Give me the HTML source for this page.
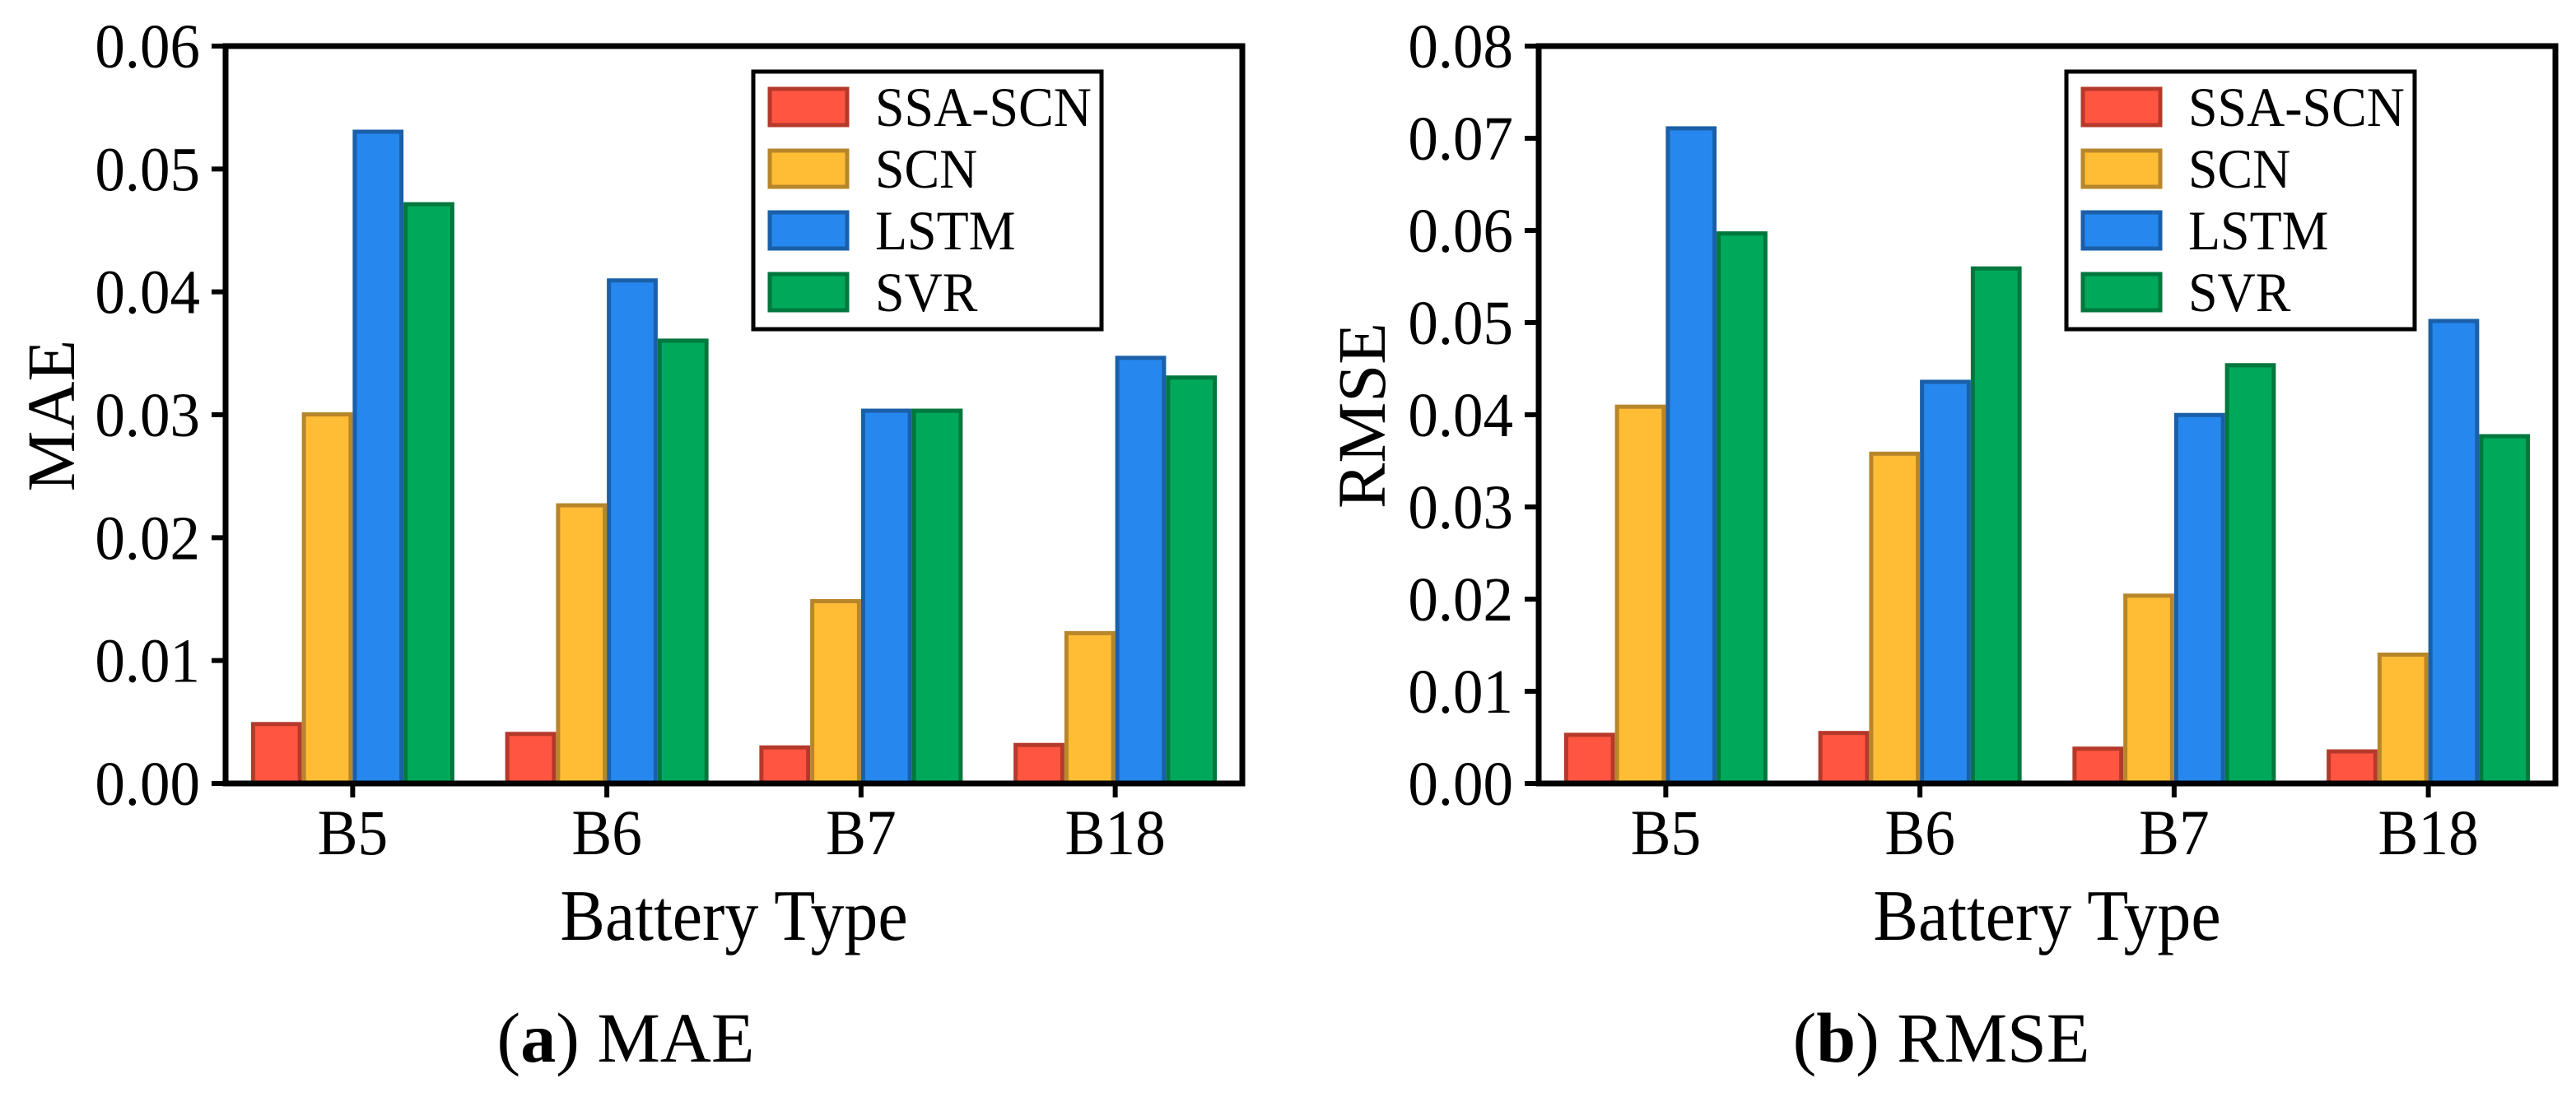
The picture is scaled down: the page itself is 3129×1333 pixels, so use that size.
<!DOCTYPE html>
<html><head><meta charset="utf-8"><style>
html,body{margin:0;padding:0;background:#fff;}
svg{display:block;}
text{font-family:"Liberation Serif",serif;fill:#000;}
</style></head>
<body>
<svg id="fig" width="3129" height="1333" viewBox="0 0 3129 1333" xmlns="http://www.w3.org/2000/svg"></svg>
<script>
const categories = ["B5","B6","B7","B18"];
const seriesNames = ["SSA-SCN","SCN","LSTM","SVR"];
const maeSSASCN = [0.0050,0.0042,0.0031,0.0033];
const maeSCN = [0.0302,0.0228,0.0150,0.0124];
const maeLSTM = [0.0532,0.0411,0.0305,0.0348];
const maeSVR = [0.0473,0.0362,0.0305,0.0332];
const rmseSSASCN = [0.0055,0.0057,0.0040,0.0037];
const rmseSCN = [0.0411,0.0360,0.0206,0.0142];
const rmseLSTM = [0.0713,0.0438,0.0402,0.0504];
const rmseSVR = [0.0599,0.0561,0.0456,0.0379];
const maeTicks = ["0.00","0.01","0.02","0.03","0.04","0.05","0.06"];
const rmseTicks = ["0.00","0.01","0.02","0.03","0.04","0.05","0.06","0.07","0.08"];

const fills = ["#FF5541","#FFBD35","#2688EE","#00A85A"];
const strokes = ["#B5392B","#B8862A","#1A5FA8","#00773D"];
const NS = "http://www.w3.org/2000/svg";
const svg = document.getElementById("fig");
function mk(tag, attrs, parent){
  const e = document.createElementNS(NS, tag);
  for (const k in attrs) e.setAttribute(k, attrs[k]);
  (parent||svg).appendChild(e);
  return e;
}
function txt(parent, str, x, y, size, anchor, sx, rot){
  const t = mk("text", {"font-size":size, "text-anchor":anchor,
    transform:"translate("+x+","+y+")"+(rot?" rotate(-90)":"")+" scale("+sx+",1)"}, parent);
  t.textContent = str;
  return t;
}

function chart(cfg){
  const g = mk("g", {});
  
  
  const L=cfg.left, R=cfg.right, T=56, B=952;
  const yMax = cfg.yMax;
  const y = v => B - (v / yMax) * (B - T);
  const gw = (R - L) / categories.length;
  const xc = i => L + gw * (i + 0.5);
  const bw = gw * 0.8 / 4;
  // bars
  cfg.series.forEach((arr, s) => {
    arr.forEach((v, i) => {
      const x0 = xc(i) - 2*bw + s*bw;
      const r = mk("rect", {x:x0+2.5, y:y(v)+2.5, width:bw-5, height:Math.max(0,B-y(v)-2.5),
        fill:fills[s], stroke:strokes[s], "stroke-width":5}, g);
      
      
    });
  });
  // frame
  const fr = mk("rect", {x:L, y:T, width:R-L, height:B-T, fill:"none", stroke:"#000", "stroke-width":7}, g);
  
  
  // y ticks
  cfg.ticks.forEach((lab) => {
    const v = parseFloat(lab);
    const ty = y(v);
    const tk = mk("line", {x1:L-17, x2:L, y1:ty, y2:ty, stroke:"#000", "stroke-width":6}, g);
    
    
    const t = txt(g, lab, L-31, ty+26, 76, "end", 0.96);
    
    
  });
  // x ticks
  categories.forEach((c, i) => {
    const tk = mk("line", {x1:xc(i), x2:xc(i), y1:B, y2:B+17, stroke:"#000", "stroke-width":6}, g);
    
    
    const t = txt(g, c, xc(i), 1038, 78, "middle", 0.94);
    
    
  });
  // axis titles
  const xt = txt(g, "Battery Type", (L+R)/2, 1142, 88, "middle", 0.93);
  
  
  const yt = txt(g, cfg.yTitle, cfg.yTitleX, 505, 83, "middle", 1, true);
  
  
  // caption
  const cap = mk("text", {x:cfg.capX, y:1290, "font-size":86, "text-anchor":"middle"}, g);
  
  
  const a1 = mk("tspan", {}, cap); a1.textContent = "(";
  const a2 = mk("tspan", {"font-weight":"bold"}, cap); a2.textContent = cfg.letter;
  const a3 = mk("tspan", {}, cap); a3.textContent = ") " + cfg.yTitle;
  // legend
  const lg = mk("g", {}, g);
  
  
  const lb = mk("rect", {x:cfg.legL, y:87, width:423, height:313, fill:"#fff", stroke:"#000", "stroke-width":5}, lg);
  
  
  seriesNames.forEach((n, s) => {
    const ry = 108 + s*75;
    const sw = mk("rect", {x:cfg.legL+20, y:ry, width:94, height:44, fill:fills[s], stroke:strokes[s], "stroke-width":5}, lg);
    
    
    const t = txt(lg, n, cfg.legL+148, ry+45, 68, "start", 0.94);
    
    
  });
}

chart({name:"mae-chart", left:274, right:1509, yMax:0.06, ticks:maeTicks,
  series:[maeSSASCN, maeSCN, maeLSTM, maeSVR], yTitle:"MAE", yTitleX:90,
  capX:760, letter:"a", legL:915});
chart({name:"rmse-chart", left:1869, right:3104, yMax:0.08, ticks:rmseTicks,
  series:[rmseSSASCN, rmseSCN, rmseLSTM, rmseSVR], yTitle:"RMSE", yTitleX:1682,
  capX:2358, letter:"b", legL:2510});
</script>
</body></html>
